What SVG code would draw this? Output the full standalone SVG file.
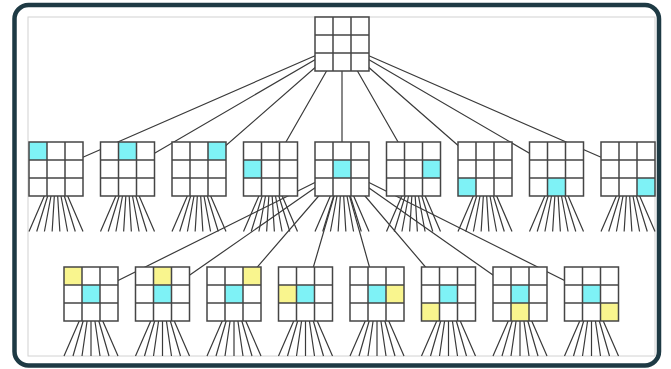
<svg xmlns="http://www.w3.org/2000/svg" xmlns:xlink="http://www.w3.org/1999/xlink" width="671" height="369" viewBox="0 0 671 369">
<style>
.conn{fill:none;stroke:#3a3a3a;stroke-width:1.2}
.bg{fill:#ffffff}
.c{fill:#7ef2f6}
.y{fill:#f9f58e}
.gl{fill:none;stroke:#454545;stroke-width:1.5}
</style>
<defs>
<g id="grid" class="gl"><rect x="0" y="0" width="54" height="54"/><path d="M18 0V54M36 0V54M0 18H54M0 36H54"/></g>
</defs>
<rect x="0" y="0" width="671" height="369" fill="#ffffff"/>
<rect x="14.5" y="5" width="644.5" height="360.5" rx="14" fill="#ffffff" stroke="#1e3a44" stroke-width="4.5"/>
<rect x="28" y="17" width="627" height="339" fill="#ffffff" stroke="#d2d2d2" stroke-width="1"/>
<g id="connectors" class="conn">
<path d="M342 44L56 169M342 44L127.5 169M342 44L199 169M342 44L270.5 169M342 44L342 169M342 44L413.5 169M342 44L485 169M342 44L556.5 169M342 44L628 169"/>
<path d="M342 169L91 294M342 169L162.5 294M342 169L234 294M342 169L305.5 294M342 169L377 294M342 169L448.5 294M342 169L520 294M342 169L591.5 294"/>
<path d="M56 169L29 231.5M56 169L36.71 231.5M56 169L44.43 231.5M56 169L52.14 231.5M56 169L59.86 231.5M56 169L67.57 231.5M56 169L75.29 231.5M56 169L83 231.5"/>
<path d="M127.5 169L100.5 231.5M127.5 169L108.21 231.5M127.5 169L115.93 231.5M127.5 169L123.64 231.5M127.5 169L131.36 231.5M127.5 169L139.07 231.5M127.5 169L146.79 231.5M127.5 169L154.5 231.5"/>
<path d="M199 169L172 231.5M199 169L179.71 231.5M199 169L187.43 231.5M199 169L195.14 231.5M199 169L202.86 231.5M199 169L210.57 231.5M199 169L218.29 231.5M199 169L226 231.5"/>
<path d="M270.5 169L243.5 231.5M270.5 169L251.21 231.5M270.5 169L258.93 231.5M270.5 169L266.64 231.5M270.5 169L274.36 231.5M270.5 169L282.07 231.5M270.5 169L289.79 231.5M270.5 169L297.5 231.5"/>
<path d="M342 169L315 231.5M342 169L322.71 231.5M342 169L330.43 231.5M342 169L338.14 231.5M342 169L345.86 231.5M342 169L353.57 231.5M342 169L361.29 231.5M342 169L369 231.5"/>
<path d="M413.5 169L386.5 231.5M413.5 169L394.21 231.5M413.5 169L401.93 231.5M413.5 169L409.64 231.5M413.5 169L417.36 231.5M413.5 169L425.07 231.5M413.5 169L432.79 231.5M413.5 169L440.5 231.5"/>
<path d="M485 169L458 231.5M485 169L465.71 231.5M485 169L473.43 231.5M485 169L481.14 231.5M485 169L488.86 231.5M485 169L496.57 231.5M485 169L504.29 231.5M485 169L512 231.5"/>
<path d="M556.5 169L529.5 231.5M556.5 169L537.21 231.5M556.5 169L544.93 231.5M556.5 169L552.64 231.5M556.5 169L560.36 231.5M556.5 169L568.07 231.5M556.5 169L575.79 231.5M556.5 169L583.5 231.5"/>
<path d="M628 169L601 231.5M628 169L608.71 231.5M628 169L616.43 231.5M628 169L624.14 231.5M628 169L631.86 231.5M628 169L639.57 231.5M628 169L647.29 231.5M628 169L655 231.5"/>
<path d="M91 294L64 356M91 294L73 356M91 294L82 356M91 294L91 356M91 294L100 356M91 294L109 356M91 294L118 356"/>
<path d="M162.5 294L135.5 356M162.5 294L144.5 356M162.5 294L153.5 356M162.5 294L162.5 356M162.5 294L171.5 356M162.5 294L180.5 356M162.5 294L189.5 356"/>
<path d="M234 294L207 356M234 294L216 356M234 294L225 356M234 294L234 356M234 294L243 356M234 294L252 356M234 294L261 356"/>
<path d="M305.5 294L278.5 356M305.5 294L287.5 356M305.5 294L296.5 356M305.5 294L305.5 356M305.5 294L314.5 356M305.5 294L323.5 356M305.5 294L332.5 356"/>
<path d="M377 294L350 356M377 294L359 356M377 294L368 356M377 294L377 356M377 294L386 356M377 294L395 356M377 294L404 356"/>
<path d="M448.5 294L421.5 356M448.5 294L430.5 356M448.5 294L439.5 356M448.5 294L448.5 356M448.5 294L457.5 356M448.5 294L466.5 356M448.5 294L475.5 356"/>
<path d="M520 294L493 356M520 294L502 356M520 294L511 356M520 294L520 356M520 294L529 356M520 294L538 356M520 294L547 356"/>
<path d="M591.5 294L564.5 356M591.5 294L573.5 356M591.5 294L582.5 356M591.5 294L591.5 356M591.5 294L600.5 356M591.5 294L609.5 356M591.5 294L618.5 356"/>
</g>
<g id="root" transform="translate(315,17)"><rect class="bg" width="54" height="54"/><use href="#grid"/></g>
<g id="n1-0" transform="translate(29,142)"><rect class="bg" width="54" height="54"/><rect class="c" x="0" y="0" width="18" height="18"/><use href="#grid"/></g>
<g id="n1-1" transform="translate(100.5,142)"><rect class="bg" width="54" height="54"/><rect class="c" x="18" y="0" width="18" height="18"/><use href="#grid"/></g>
<g id="n1-2" transform="translate(172,142)"><rect class="bg" width="54" height="54"/><rect class="c" x="36" y="0" width="18" height="18"/><use href="#grid"/></g>
<g id="n1-3" transform="translate(243.5,142)"><rect class="bg" width="54" height="54"/><rect class="c" x="0" y="18" width="18" height="18"/><use href="#grid"/></g>
<g id="n1-4" transform="translate(315,142)"><rect class="bg" width="54" height="54"/><rect class="c" x="18" y="18" width="18" height="18"/><use href="#grid"/></g>
<g id="n1-5" transform="translate(386.5,142)"><rect class="bg" width="54" height="54"/><rect class="c" x="36" y="18" width="18" height="18"/><use href="#grid"/></g>
<g id="n1-6" transform="translate(458,142)"><rect class="bg" width="54" height="54"/><rect class="c" x="0" y="36" width="18" height="18"/><use href="#grid"/></g>
<g id="n1-7" transform="translate(529.5,142)"><rect class="bg" width="54" height="54"/><rect class="c" x="18" y="36" width="18" height="18"/><use href="#grid"/></g>
<g id="n1-8" transform="translate(601,142)"><rect class="bg" width="54" height="54"/><rect class="c" x="36" y="36" width="18" height="18"/><use href="#grid"/></g>
<g id="n2-0" transform="translate(64,267)"><rect class="bg" width="54" height="54"/><rect class="c" x="18" y="18" width="18" height="18"/><rect class="y" x="0" y="0" width="18" height="18"/><use href="#grid"/></g>
<g id="n2-1" transform="translate(135.5,267)"><rect class="bg" width="54" height="54"/><rect class="c" x="18" y="18" width="18" height="18"/><rect class="y" x="18" y="0" width="18" height="18"/><use href="#grid"/></g>
<g id="n2-2" transform="translate(207,267)"><rect class="bg" width="54" height="54"/><rect class="c" x="18" y="18" width="18" height="18"/><rect class="y" x="36" y="0" width="18" height="18"/><use href="#grid"/></g>
<g id="n2-3" transform="translate(278.5,267)"><rect class="bg" width="54" height="54"/><rect class="c" x="18" y="18" width="18" height="18"/><rect class="y" x="0" y="18" width="18" height="18"/><use href="#grid"/></g>
<g id="n2-4" transform="translate(350,267)"><rect class="bg" width="54" height="54"/><rect class="c" x="18" y="18" width="18" height="18"/><rect class="y" x="36" y="18" width="18" height="18"/><use href="#grid"/></g>
<g id="n2-5" transform="translate(421.5,267)"><rect class="bg" width="54" height="54"/><rect class="c" x="18" y="18" width="18" height="18"/><rect class="y" x="0" y="36" width="18" height="18"/><use href="#grid"/></g>
<g id="n2-6" transform="translate(493,267)"><rect class="bg" width="54" height="54"/><rect class="c" x="18" y="18" width="18" height="18"/><rect class="y" x="18" y="36" width="18" height="18"/><use href="#grid"/></g>
<g id="n2-7" transform="translate(564.5,267)"><rect class="bg" width="54" height="54"/><rect class="c" x="18" y="18" width="18" height="18"/><rect class="y" x="36" y="36" width="18" height="18"/><use href="#grid"/></g>
</svg>
